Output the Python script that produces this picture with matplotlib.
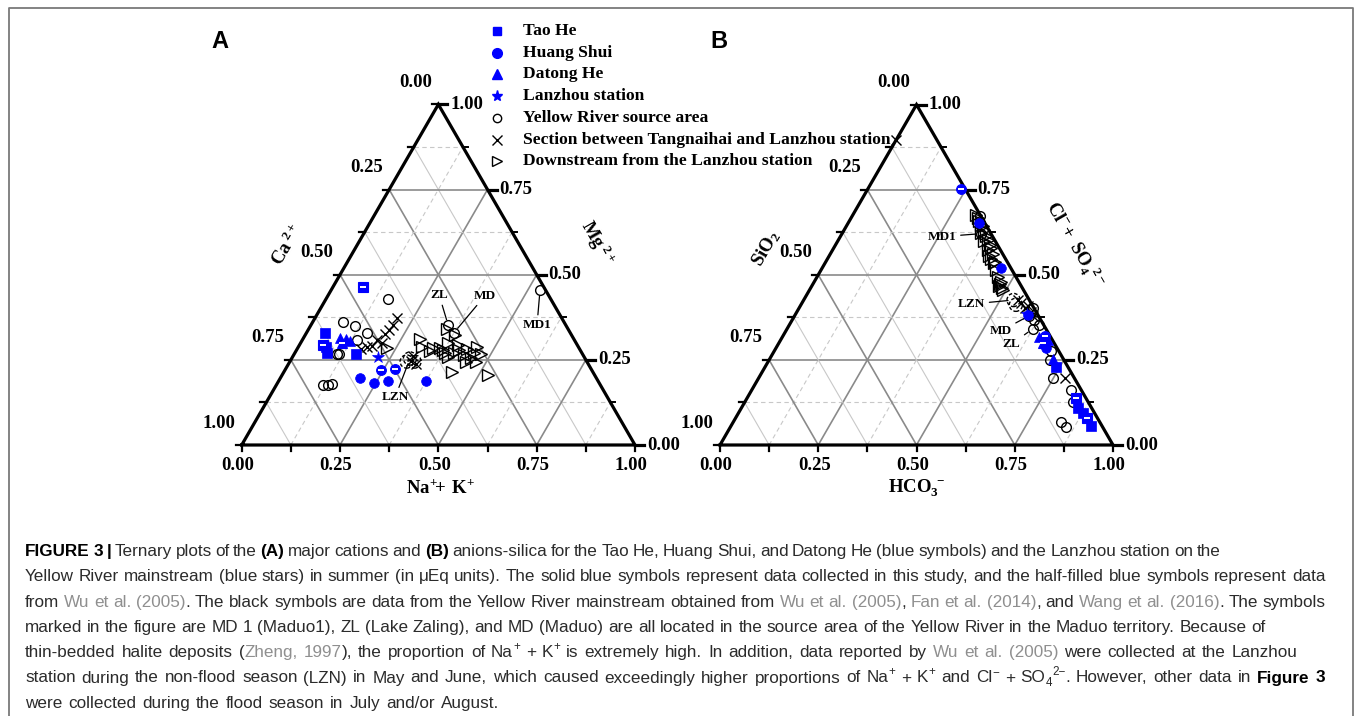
import re
import numpy as np
import matplotlib
matplotlib.use("Agg")
import matplotlib.pyplot as plt
from matplotlib.font_manager import FontProperties

W, H = 1355, 716
S3 = np.sqrt(3) / 2

# ===================== DATA =====================
# Panel A (cations): components (Na+ + K+, Ca2+, Mg2+)
taoA_nak = [0.047, 0.071, 0.081, 0.158]
taoA_ca = [0.623, 0.642, 0.648, 0.576]
taoA_mg = [0.330, 0.287, 0.271, 0.266]
taoA_half_nak = [0.059, 0.075]
taoA_half_ca = [0.647, 0.460]
taoA_half_mg = [0.294, 0.465]

huangA_nak = [0.203, 0.247, 0.279, 0.374]
huangA_ca = [0.601, 0.572, 0.533, 0.437]
huangA_mg = [0.196, 0.181, 0.188, 0.189]
huangA_half_nak = [0.244, 0.279]
huangA_half_ca = [0.536, 0.499]
huangA_half_mg = [0.220, 0.222]

datongA_nak = [0.092, 0.109, 0.123]
datongA_ca = [0.593, 0.581, 0.572]
datongA_mg = [0.315, 0.310, 0.305]
datongA_half_nak = [0.105]
datongA_half_ca = [0.597]
datongA_half_mg = [0.298]

lanzhouA_nak = [0.219]
lanzhouA_ca = [0.524]
lanzhouA_mg = [0.257]

sourceA_nak = [0.159, 0.077, 0.113, 0.153, 0.138, 0.109, 0.115, 0.118, 0.132, 0.141, 0.531, 0.349, 0.375]
sourceA_ca = [0.413, 0.561, 0.537, 0.517, 0.554, 0.625, 0.619, 0.706, 0.692, 0.680, 0.014, 0.299, 0.295]
sourceA_mg = [0.428, 0.362, 0.350, 0.330, 0.308, 0.266, 0.266, 0.176, 0.176, 0.179, 0.455, 0.352, 0.330]

sectionA_nak = [0.208, 0.208, 0.206, 0.201, 0.191, 0.185, 0.174, 0.164, 0.207, 0.306, 0.306, 0.324]
sectionA_ca = [0.420, 0.440, 0.456, 0.473, 0.501, 0.524, 0.539, 0.555, 0.495, 0.433, 0.446, 0.438]
sectionA_mg = [0.372, 0.352, 0.338, 0.326, 0.308, 0.291, 0.287, 0.281, 0.298, 0.261, 0.248, 0.238]

lznA_nak = [0.301, 0.317, 0.297]
lznA_ca = [0.445, 0.438, 0.458]
lznA_mg = [0.254, 0.245, 0.245]

downA_nak = [0.298, 0.314, 0.339, 0.361, 0.350, 0.381, 0.376, 0.404, 0.432, 0.455, 0.475, 0.372, 0.396,
             0.406, 0.432, 0.455, 0.474, 0.448, 0.412, 0.426, 0.525, 0.227, 0.383, 0.455, 0.345]
downA_ca = [0.392, 0.399, 0.384, 0.355, 0.308, 0.296, 0.326, 0.302, 0.287, 0.256, 0.258, 0.349, 0.345,
            0.325, 0.304, 0.291, 0.281, 0.307, 0.309, 0.359, 0.270, 0.489, 0.348, 0.276, 0.371]
downA_mg = [0.310, 0.287, 0.277, 0.284, 0.342, 0.323, 0.298, 0.294, 0.281, 0.289, 0.267, 0.279, 0.259,
            0.269, 0.264, 0.254, 0.245, 0.245, 0.279, 0.215, 0.205, 0.284, 0.269, 0.269, 0.284]

labelsA = ["MD1", "ZL", "MD", "LZN"]
labelsA_nak = [0.531, 0.349, 0.375, 0.301]
labelsA_mg = [0.455, 0.352, 0.330, 0.254]

# Panel B (anions-silica): components (HCO3-, SiO2, Cl- + SO4 2-)
taoB_hco3 = [0.742, 0.857, 0.877, 0.916]
taoB_si = [0.030, 0.033, 0.030, 0.027]
taoB_cl = [0.228, 0.110, 0.093, 0.057]
taoB_half_hco3 = [0.838, 0.895]
taoB_half_si = [0.025, 0.027]
taoB_half_cl = [0.137, 0.078]

huangB_hco3 = [0.333, 0.456, 0.593, 0.687]
huangB_si = [0.016, 0.025, 0.025, 0.029]
huangB_cl = [0.651, 0.519, 0.382, 0.284]
huangB_half_hco3 = [0.236, 0.666]
huangB_half_si = [0.011, 0.014]
huangB_half_cl = [0.753, 0.320]

datongB_hco3 = [0.653, 0.681, 0.720]
datongB_si = [0.029, 0.011, 0.026]
datongB_cl = [0.318, 0.308, 0.254]
datongB_half_hco3 = [0.672]
datongB_half_si = [0.028]
datongB_half_cl = [0.300]

lanzhouB_hco3 = [0.587]
lanzhouB_si = [0.027]
lanzhouB_cl = [0.386]

sourceB_hco3 = [0.325, 0.595, 0.616, 0.636, 0.705, 0.749, 0.813, 0.834, 0.854, 0.835, 0.714, 0.354, 0.596, 0.625]
sourceB_si = [0.003, 0.003, 0.016, 0.011, 0.020, 0.055, 0.025, 0.097, 0.094, 0.038, 0.036, 0.025, 0.025, 0.034]
sourceB_cl = [0.672, 0.402, 0.368, 0.353, 0.275, 0.196, 0.162, 0.069, 0.052, 0.127, 0.250, 0.621, 0.379, 0.341]

sectionB_hco3 = [0.558, 0.574, 0.580, 0.596, 0.779, 0.000, 0.544, 0.607]
sectionB_si = [0.025, 0.024, 0.013, 0.012, 0.025, 0.103, 0.029, 0.015]
sectionB_cl = [0.417, 0.402, 0.407, 0.392, 0.196, 0.897, 0.427, 0.378]

lznB_hco3 = [0.534, 0.547]
lznB_si = [0.040, 0.041]
lznB_cl = [0.426, 0.412]

downB_cl = [0.676, 0.657, 0.642, 0.624, 0.615, 0.598, 0.588, 0.574, 0.562, 0.546, 0.534, 0.493, 0.480,
            0.466, 0.454, 0.515, 0.667, 0.632, 0.603, 0.578, 0.554, 0.473, 0.461, 0.647, 0.539]
downB_si = [0.010, 0.012, 0.011, 0.024, 0.016, 0.028, 0.020, 0.032, 0.025, 0.037, 0.035, 0.047, 0.044,
            0.058, 0.052, 0.040, 0.011, 0.011, 0.017, 0.021, 0.038, 0.052, 0.052, 0.012, 0.030]
downB_hco3 = [0.314, 0.331, 0.347, 0.352, 0.369, 0.374, 0.392, 0.394, 0.413, 0.417, 0.431, 0.460, 0.476,
              0.476, 0.494, 0.445, 0.322, 0.357, 0.380, 0.401, 0.408, 0.475, 0.487, 0.341, 0.431]

labelsB = ["MD1", "LZN", "MD", "ZL"]
labelsB_hco3 = [0.354, 0.534, 0.596, 0.625]
labelsB_cl = [0.621, 0.426, 0.379, 0.341]

tick_values = [0.00, 0.25, 0.50, 0.75, 1.00]
legend_labels = ["Tao He", "Huang Shui", "Datong He", "Lanzhou station", "Yellow River source area",
                 "Section between Tangnaihai and Lanzhou station", "Downstream from the Lanzhou station"]

# ===================== STYLE =====================
plt.rcParams['mathtext.fontset'] = 'custom'
plt.rcParams['mathtext.rm'] = 'Liberation Serif:bold'
plt.rcParams['mathtext.it'] = 'Liberation Serif:bold'
plt.rcParams['mathtext.bf'] = 'Liberation Serif:bold'

BLUE = '#0000ff'
fp_tick = FontProperties(family='Liberation Serif', weight='bold', size=13.5)
fp_title = FontProperties(family='Liberation Serif', weight='bold', size=13.5)
fp_ann = FontProperties(family='Liberation Serif', weight='bold', size=9.5)
fp_leg = FontProperties(family='Liberation Serif', weight='bold', size=12.6)
fp_panel = FontProperties(family='Liberation Sans', weight='bold', size=17)

fig = plt.figure(figsize=(W / 100, H / 100), dpi=100)
ov = fig.add_axes([0, 0, 1, 1])
ov.set_xlim(0, W)
ov.set_ylim(H, 0)
ov.axis('off')

# frame of the figure panel
ov.plot([9, 9, 1353, 1353], [H + 5, 8, 8, H + 5], color='#7a7a7a', lw=1.3, clip_on=False)


def tern_xy(a, c):
    a = np.asarray(a, float)
    c = np.asarray(c, float)
    return a + c / 2, c * S3


def make_ternary(x0, y0, side):
    ax = fig.add_axes([x0 / W, (H - y0) / H, side / W, side * S3 / H])
    ax.set_xlim(0, 1)
    ax.set_ylim(0, S3)
    ax.axis('off')
    return ax


def draw_frame(ax, side, bottom_title, left_title, right_title, title_pos):
    px = 1.0 / side
    for i in range(1, 8):
        t = i / 8
        if i % 2 == 0:
            k = dict(color='#8a8a8a', lw=1.2, ls='-')
            kws = [k, k, k]
        else:
            kws = [dict(color='#c8c8c8', lw=0.8, ls=(0, (4, 3))),
                   dict(color='#c8c8c8', lw=0.8, ls=(0, (4, 3))),
                   dict(color='#c8c8c8', lw=0.8, ls='-')]
        ax.plot([t / 2, 1 - t / 2], [t * S3, t * S3], zorder=1, **kws[0])
        ax.plot([t, t + (1 - t) / 2], [0, (1 - t) * S3], zorder=1, **kws[1])
        ax.plot([1 - t, (1 - t) / 2], [0, (1 - t) * S3], zorder=1, **kws[2])
    ax.plot([0, 1, 0.5, 0], [0, 0, S3, 0], color='k', lw=2.3, solid_joinstyle='miter',
            zorder=3, clip_on=False)
    for i in range(9):
        t = i / 8
        major = (i % 2 == 0)
        ax.plot([t, t], [0, -6 * px], color='k', lw=1.6, clip_on=False, zorder=3)
        xl, yl = (1 - t) / 2, (1 - t) * S3
        ax.plot([xl, xl - 6 * px], [yl, yl], color='k', lw=1.6, clip_on=False, zorder=3)
        xr, yr = 1 - t / 2, t * S3
        ax.plot([xr, xr + (9 if major else 5) * px], [yr, yr], color='k',
                lw=2.3 if major else 1.4, clip_on=False, zorder=3)
    for v in tick_values:
        lab = f'{v:.2f}'
        ax.text(v - 4 * px, -20 * px, lab, ha='center', va='center', fontproperties=fp_tick)
        ax.text((1 - v) / 2 - 23 * px, (1 - v) * S3 + 22 * px, lab, ha='center', va='center',
                fontproperties=fp_tick)
        ax.text(1 - v / 2 + 12 * px, v * S3, lab, ha='left', va='center', fontproperties=fp_tick)
    (bx, by), (lx, ly), (rx, ry) = title_pos
    ax.text(bx, by, bottom_title, ha='center', va='center', fontproperties=fp_title)
    ax.text(lx, ly, left_title, ha='center', va='center', rotation=60, fontproperties=fp_title)
    ax.text(rx, ry, right_title, ha='center', va='center', rotation=-60, fontproperties=fp_title)


def pts(ax, a, c, marker, ms, fc, ec, mew=1.0, z=4):
    x, y = tern_xy(a, c)
    ax.plot(x, y, ls='none', marker=marker, ms=ms, mfc=fc, mec=ec, mew=mew, clip_on=False, zorder=z)


def half(ax, a, c, marker, ms):
    pts(ax, a, c, marker, ms, BLUE, BLUE, 0.8, 6)
    x, y = tern_xy(a, c)
    ax.plot(x, y, ls='none', marker='_', ms=ms * 0.65, mec='white', mew=1.4, clip_on=False, zorder=7)


def lzn(ax, a, c):
    x, y = tern_xy(a, c)
    ax.scatter(x, y, s=9.5 ** 2, facecolors='none', edgecolors='k', linewidths=1.0,
               linestyles=(0, (2.5, 1.5)), clip_on=False, zorder=5)


def label_points(ax, names, a, c, offsets):
    x, y = tern_xy(a, c)
    for n, xi, yi, (dx, dy) in zip(names, x, y, offsets):
        ax.annotate(n, xy=(xi, yi), xytext=(dx, dy), textcoords='offset pixels', ha='center',
                    va='center', fontproperties=fp_ann, zorder=8,
                    arrowprops=dict(arrowstyle='-', lw=0.9, color='k', shrinkA=1, shrinkB=4))


# ----------------- Panel A -----------------
axA = make_ternary(241.7, 445, 393.3)
draw_frame(axA, 393.3, r'$\mathrm{Na^{+}\!\!+\,K^{+}}$', r'$\mathrm{Ca^{\ 2+}}$', r'$\mathrm{Mg^{\ 2+}}$',
           [(0.504, -0.109), (0.115, 0.509), (0.904, 0.514)])
pts(axA, downA_nak, downA_mg, '>', 8, 'none', 'k', 1.0)
pts(axA, sectionA_nak, sectionA_mg, 'x', 7.5, 'none', 'k', 1.0)
pts(axA, sourceA_nak, sourceA_mg, 'o', 7, 'none', 'k', 1.0)
lzn(axA, lznA_nak, lznA_mg)
pts(axA, taoA_nak, taoA_mg, 's', 6.5, BLUE, BLUE, 0.5, 6)
half(axA, taoA_half_nak, taoA_half_mg, 's', 6.5)
pts(axA, huangA_nak, huangA_mg, 'o', 7, BLUE, BLUE, 0.5, 6)
half(axA, huangA_half_nak, huangA_half_mg, 'o', 7)
pts(axA, datongA_nak, datongA_mg, '^', 7.5, BLUE, BLUE, 0.5, 6)
half(axA, datongA_half_nak, datongA_half_mg, '^', 7.5)
pts(axA, lanzhouA_nak, lanzhouA_mg, '*', 9, BLUE, BLUE, 0.5, 6)
label_points(axA, labelsA, labelsA_nak, labelsA_mg, [(-3, -35), (-9, 30), (31, 37), (-15, -39)])

# ----------------- Panel B -----------------
axB = make_ternary(720, 445, 393.0)
draw_frame(axB, 393.0, r'$\mathrm{HCO_{3}^{\ -}}$', r'$\mathrm{SiO_{2}}$',
           r'$\mathrm{Cl^{-}\!+\ SO_{4}^{\ \ 2-}}$',
           [(0.501, -0.109), (0.117, 0.501), (0.903, 0.509)])
pts(axB, downB_hco3, downB_cl, '>', 8, 'none', 'k', 1.0)
pts(axB, sectionB_hco3, sectionB_cl, 'x', 7.5, 'none', 'k', 1.0)
pts(axB, sourceB_hco3, sourceB_cl, 'o', 7, 'none', 'k', 1.0)
lzn(axB, lznB_hco3, lznB_cl)
pts(axB, taoB_hco3, taoB_cl, 's', 6.5, BLUE, BLUE, 0.5, 6)
half(axB, taoB_half_hco3, taoB_half_cl, 's', 6.5)
pts(axB, huangB_hco3, huangB_cl, 'o', 7, BLUE, BLUE, 0.5, 6)
half(axB, huangB_half_hco3, huangB_half_cl, 'o', 7)
pts(axB, datongB_hco3, datongB_cl, '^', 7.5, BLUE, BLUE, 0.5, 6)
half(axB, datongB_half_hco3, datongB_half_cl, '^', 7.5)
pts(axB, lanzhouB_hco3, lanzhouB_cl, '*', 9, BLUE, BLUE, 0.5, 6)
label_points(axB, labelsB, labelsB_hco3, labelsB_cl, [(-39, -3), (-42, -4), (-28, -15), (-21, -15)])

# ----------------- panel letters -----------------
ov.text(220, 42, 'A', ha='center', va='center', fontproperties=fp_panel)
ov.text(719, 42, 'B', ha='center', va='center', fontproperties=fp_panel)

# ----------------- legend -----------------
leg_styles = [dict(marker='s', ms=6, mfc=BLUE, mec=BLUE),
              dict(marker='o', ms=7, mfc=BLUE, mec=BLUE),
              dict(marker='^', ms=7.5, mfc=BLUE, mec=BLUE),
              dict(marker='*', ms=8, mfc=BLUE, mec=BLUE),
              dict(marker='o', ms=6, mfc='none', mec='k', mew=1.0),
              dict(marker='x', ms=6.5, mfc='none', mec='k', mew=1.0),
              dict(marker='>', ms=6.5, mfc='none', mec='k', mew=1.0)]
for i, (lab, st) in enumerate(zip(legend_labels, leg_styles)):
    yy = 31 + i * 21.7
    ov.plot([497], [yy], ls='none', **st)
    ov.text(523, yy, lab, ha='left', va='center', fontproperties=fp_leg)

# ----------------- caption -----------------
rend = fig.canvas.get_renderer()
TXT = '#2b2b2b'
LINK = '#8f8f8f'


def fprop(kind, size):
    if kind == 'b':
        return FontProperties(family='Liberation Sans', weight='bold', size=size)
    if kind in ('sup', 'sub'):
        return FontProperties(family='Liberation Sans', size=size * 0.68)
    return FontProperties(family='Liberation Sans', size=size)


def seg_width(s, fp):
    w1 = rend.get_text_width_height_descent(s + '|', fp, ismath=False)[0]
    w2 = rend.get_text_width_height_descent('|', fp, ismath=False)[0]
    return w1 - w2


caption = [
    [("FIGURE 3 | ", 'b'), ("Ternary plots of the ", 'n'), ("(A)", 'b'), (" major cations and ", 'n'),
     ("(B)", 'b'),
     (" anions-silica for the Tao He, Huang Shui, and Datong He (blue symbols) and the Lanzhou station on the", 'n')],
    [("Yellow River mainstream (blue stars) in summer (in \u03bcEq units). The solid blue symbols represent data "
      "collected in this study, and the half-filled blue symbols represent data", 'n')],
    [("from ", 'n'), ("Wu et al. (2005)", 'l'),
     (". The black symbols are data from the Yellow River mainstream obtained from ", 'n'),
     ("Wu et al. (2005)", 'l'), (", ", 'n'), ("Fan et al. (2014)", 'l'), (", and ", 'n'),
     ("Wang et al. (2016)", 'l'), (". The symbols", 'n')],
    [("marked in the figure are MD 1 (Maduo1), ZL (Lake Zaling), and MD (Maduo) are all located in the source "
      "area of the Yellow River in the Maduo territory. Because of", 'n')],
    [("thin-bedded halite deposits (", 'n'), ("Zheng, 1997", 'l'), ("), the proportion of Na", 'n'),
     ("+", 'sup'), (" + K", 'n'), ("+", 'sup'), (" is extremely high. In addition, data reported by ", 'n'),
     ("Wu et al. (2005)", 'l'), (" were collected at the Lanzhou", 'n')],
    [("station during the non-flood season (LZN) in May and June, which caused exceedingly higher proportions "
      "of Na", 'n'), ("+", 'sup'), (" + K", 'n'), ("+", 'sup'), (" and Cl", 'n'), ("\u2212", 'sup'),
     (" + SO", 'n'), ("4", 'sub'), ("2\u2212", 'sup'), (". However, other data in ", 'n'), ("Figure 3", 'b')],
    [("were collected during the flood season in July and/or August.", 'n')],
]
# right end (pixels) of each caption line in the reference layout
caption_line_end = [1190, 1325, 1325, 1265, 1325, 1325, 517]

base = 12.0
w_ref = sum(seg_width(s, fprop(k, base)) for s, k in caption[1])
size = base * 1300.0 / w_ref

for li, line in enumerate(caption):
    x0 = 25.0
    yb = 556 + li * 25.3
    natural = sum(seg_width(s, fprop(k, size)) for s, k in line)
    nspace = sum(s.count(' ') for s, k in line)
    extra = (caption_line_end[li] - x0 - natural) / max(nspace, 1)
    extra = float(np.clip(extra, -1.2, 1.2))
    x = x0
    for s, k in line:
        fp = fprop(k, size)
        dy = 0
        if k == 'sup':
            dy = -0.42 * size * 1.389
        elif k == 'sub':
            dy = 0.22 * size * 1.389
        col = LINK if k == 'l' else ('#000000' if k == 'b' else TXT)
        sp_w = seg_width(' ', fp)
        for tok in re.split('( )', s):
            if tok == '':
                continue
            if tok == ' ':
                x += sp_w + extra
                continue
            ov.text(x, yb + dy, tok, ha='left', va='baseline', fontproperties=fp, color=col)
            x += seg_width(tok, fp)

fig.savefig('out.png', dpi=100)
